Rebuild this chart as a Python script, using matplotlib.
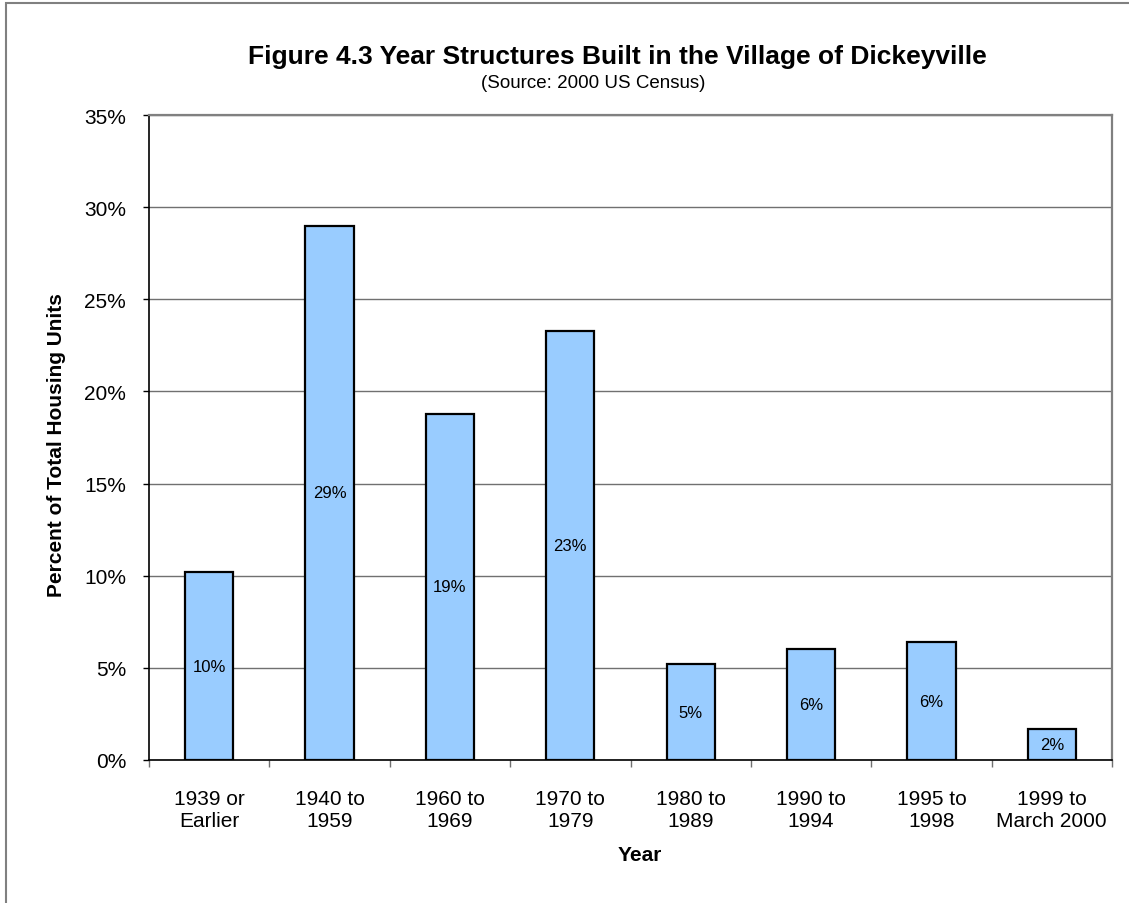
import matplotlib
matplotlib.use("Agg")
import matplotlib.pyplot as plt
from matplotlib.patches import Rectangle
from matplotlib.ticker import FuncFormatter

plt.rcParams.update({
    "font.family": ["Liberation Sans", "DejaVu Sans"],
})

# datos (porcentaje de viviendas)
PERIODS = ["1939 or\nEarlier", "1940 to\n1959", "1960 to\n1969", "1970 to\n1979",
           "1980 to\n1989", "1990 to\n1994", "1995 to\n1998", "1999 to\nMarch 2000"]
PERCENT = [10.2, 29.0, 18.8, 23.3, 5.2, 6.0, 6.4, 1.7]
YTICKS = [0, 5, 10, 15, 20, 25, 30, 35]

W, H = 1129, 904
fig = plt.figure(figsize=(W / 100, H / 100), dpi=100)
ax = fig.add_axes([149 / W, 1 - 761 / H, (1112 - 149) / W, (761 - 116) / H])

x = list(range(len(PERIODS)))
ax.bar(x, PERCENT, width=0.4, color="#99ccff", edgecolor="black", linewidth=1.6, zorder=3)
for xi, v in zip(x, PERCENT):
    ax.text(xi, v / 2, f"{v:.0f}%", ha="center", va="center", fontsize=12, zorder=4)

ax.set_xlim(-0.5, len(PERIODS) - 0.5)
ax.set_ylim(0, 35)
ax.set_yticks(YTICKS)
ax.yaxis.set_major_formatter(FuncFormatter(lambda v, p: f"{v:.0f}%"))
ax.tick_params(axis="y", labelsize=15, length=4.5, width=1, pad=12)
ax.grid(axis="y", color="#707070", linewidth=1, zorder=0)
ax.set_axisbelow(True)

# ticks en los limites de categoria, etiquetas en el centro
ax.set_xticks([i - 0.5 for i in range(len(PERIODS) + 1)])
ax.set_xticklabels([])
ax.set_xticks(x, minor=True)
ax.set_xticklabels(PERIODS, minor=True, fontsize=15, linespacing=1.2)
ax.tick_params(axis="x", which="major", length=5, width=1, color="#707070")
ax.tick_params(axis="x", which="minor", length=0, pad=21)

for s in ["top", "right"]:
    ax.spines[s].set_color("#808080")
    ax.spines[s].set_linewidth(1.6)
for s in ["left", "bottom"]:
    ax.spines[s].set_color("black")
    ax.spines[s].set_linewidth(1.2)

fig.text(617 / W, 1 - 57 / H, "Figure 4.3 Year Structures Built in the Village of Dickeyville",
         ha="center", va="center", fontsize=19, fontweight="bold")
fig.text(593 / W, 1 - 83 / H, "(Source: 2000 US Census)", ha="center", va="center", fontsize=13.5)
fig.text(57 / W, 1 - 445 / H, "Percent of Total Housing Units", rotation=90,
         ha="center", va="center", fontsize=15, fontweight="bold")
fig.text(640 / W, 1 - 856 / H, "Year", ha="center", va="center", fontsize=15, fontweight="bold")

# marco exterior del grafico
fig.patches.append(Rectangle((6 / W, -0.01), (W + 10) / W, 1 - 4 / H + 0.01,
                             transform=fig.transFigure, fill=False,
                             edgecolor="#808080", linewidth=1.5))

fig.savefig("out.png", dpi=100)
